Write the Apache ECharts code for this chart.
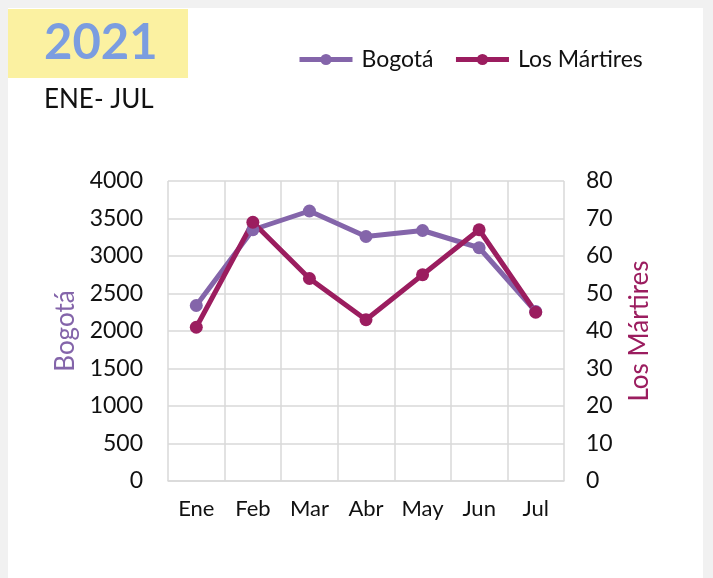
<!DOCTYPE html>
<html>
<head>
<meta charset="utf-8">
<script src="https://cdn.jsdelivr.net/npm/echarts@6/dist/echarts.min.js"></script>
<style>
  html, body { margin: 0; padding: 0; background: #f1f1f1; }
  #chart { width: 713px; height: 578px; }
</style>
</head>
<body>
<div id="chart"></div>
<script>
const months = ['Ene', 'Feb', 'Mar', 'Abr', 'May', 'Jun', 'Jul']
const bogota = [2340, 3350, 3600, 3260, 3340, 3110, 2260]
const martires = [41, 69, 54, 43, 55, 67, 45]

const purple = '#8465aa'
const wine = '#9b1d5f'
const font = 'Lato'

const chart = echarts.init(document.getElementById('chart'))

chart.setOption({
  backgroundColor: '#f1f1f1',
  animation: false,
  graphic: [
    { type: 'rect', shape: { x: 8, y: 8, width: 695, height: 580 }, style: { fill: '#ffffff' }, z: -10 },
    { type: 'rect', shape: { x: 8, y: 9, width: 180, height: 69 }, style: { fill: '#fbf1a1' }, z: -5 },
    {
      type: 'text', left: 44, top: 19,
      style: { text: '2021', fill: '#7b9de0', font: 'bold 49px ' + font }
    },
    {
      type: 'text', left: 44, top: 87,
      style: { text: 'ENE- JUL', fill: '#111', font: '26px ' + font }
    }
  ],
  legend: {
    top: 48,
    left: 297,
    padding: 0,
    itemWidth: 53,
    itemHeight: 14,
    itemGap: 20,
    textStyle: { fontFamily: font, fontSize: 23, color: '#111', padding: [0, 0, 0, 4] },
    lineStyle: { width: 5 },
    data: ['Bogotá', 'Los Mártires']
  },
  grid: { left: 168, right: 149, top: 181, bottom: 97 },
  xAxis: {
    type: 'category',
    data: months,
    boundaryGap: true,
    axisLine: { lineStyle: { color: '#d9d9d9', width: 1.5 } },
    axisTick: { show: false, interval: 0 },
    axisLabel: { fontFamily: font, fontSize: 22, color: '#111', margin: 17, interval: 0 },
    splitLine: { show: true, interval: 0, lineStyle: { color: '#d9d9d9', width: 1.5 } }
  },
  yAxis: [
    {
      type: 'value',
      min: 0, max: 4000, interval: 500,
      name: 'Bogotá',
      nameLocation: 'middle',
      nameGap: 87,
      nameTextStyle: { fontFamily: font, fontSize: 26, color: purple },
      axisLine: { show: false },
      axisTick: { show: false },
      axisLabel: { fontFamily: font, fontSize: 23, color: '#111', margin: 25, formatter: v => String(v) },
      splitLine: { lineStyle: { color: '#d9d9d9', width: 1.5 } }
    },
    {
      type: 'value',
      min: 0, max: 80, interval: 10,
      name: 'Los Mártires',
      nameLocation: 'middle',
      nameGap: 63,
      nameRotate: 90,
      nameTextStyle: { fontFamily: font, fontSize: 26, color: wine },
      axisLine: { show: false },
      axisTick: { show: false },
      axisLabel: { fontFamily: font, fontSize: 23, color: '#111', margin: 22, formatter: v => String(v) },
      splitLine: { show: false }
    }
  ],
  series: [
    {
      name: 'Bogotá',
      type: 'line',
      yAxisIndex: 0,
      data: bogota,
      symbol: 'circle',
      symbolSize: 13,
      lineStyle: { color: purple, width: 5 },
      itemStyle: { color: purple }
    },
    {
      name: 'Los Mártires',
      type: 'line',
      yAxisIndex: 1,
      data: martires,
      symbol: 'circle',
      symbolSize: 13,
      lineStyle: { color: wine, width: 5 },
      itemStyle: { color: wine }
    }
  ]
})
</script>
</body>
</html>
